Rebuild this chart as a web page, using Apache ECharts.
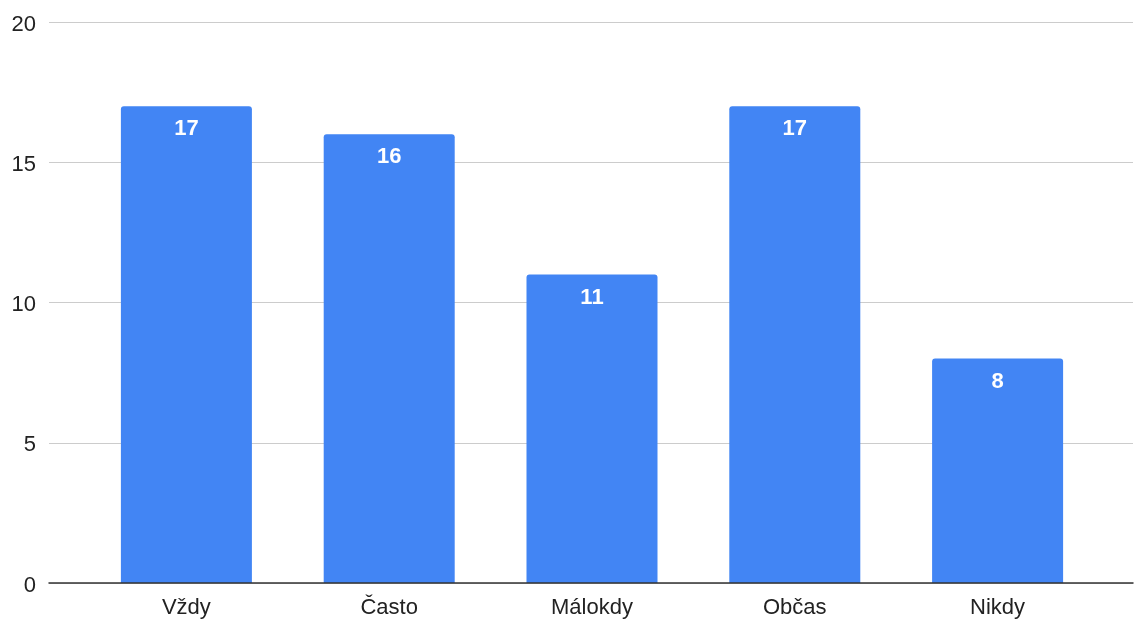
<!DOCTYPE html>
<html>
<head>
<meta charset="utf-8">
<script src="https://cdn.jsdelivr.net/npm/echarts@6/dist/echarts.min.js"></script>
<style>
html,body{margin:0;padding:0;background:#fff;}
#chart{width:1141px;height:619px;}
</style>
</head>
<body>
<div id="chart"></div>
<script>
const categories = ['Vždy', 'Často', 'Málokdy', 'Občas', 'Nikdy'];
const values = [17, 16, 11, 17, 8];
const yMin = 0, yMax = 20, yStep = 5;

const chart = echarts.init(document.getElementById('chart'), null, {renderer: 'canvas'});
const font = '"Liberation Sans", Arial, sans-serif';
chart.setOption({
  animation: false,
  backgroundColor: '#ffffff',
  grid: [
    {left: 49, right: 8, top: 22, bottom: 36, containLabel: false},
    {left: 85, right: 42, top: 22, bottom: 36, containLabel: false}
  ],
  xAxis: [
    {gridIndex: 0, type: 'value', min: 0, max: 1, z: 5,
     axisLine: {show: true, onZero: false, lineStyle: {color: '#333333', width: 1.5}},
     axisTick: {show: false}, axisLabel: {show: false}, splitLine: {show: false}},
    {gridIndex: 1, type: 'category', data: categories,
     axisLine: {show: false}, axisTick: {show: false},
     axisLabel: {color: '#222222', fontSize: 22, fontFamily: font, margin: 14}}
  ],
  yAxis: [
    {gridIndex: 0, type: 'value', min: yMin, max: yMax, interval: yStep,
     axisLine: {show: false}, axisTick: {show: false},
     axisLabel: {color: '#222222', fontSize: 22, fontFamily: font, margin: 13,
                 formatter: '{a|{value}}',
                 rich: {a: {color: '#222222', fontSize: 22, fontFamily: font, padding: [5, 0, 0, 0]}}},
     splitLine: {show: true, lineStyle: {color: '#cccccc', width: 1}}},
    {gridIndex: 1, type: 'value', min: yMin, max: yMax, interval: yStep, show: false}
  ],
  series: [{
    type: 'bar',
    xAxisIndex: 1, yAxisIndex: 1,
    data: values,
    barWidth: '64.6%',
    itemStyle: {color: '#4285F4', borderRadius: [3, 3, 0, 0]},
    label: {show: true, position: 'insideTop', distance: 12, color: '#ffffff',
            fontSize: 22, fontWeight: 'bold', fontFamily: font}
  }]
});
</script>
</body>
</html>
